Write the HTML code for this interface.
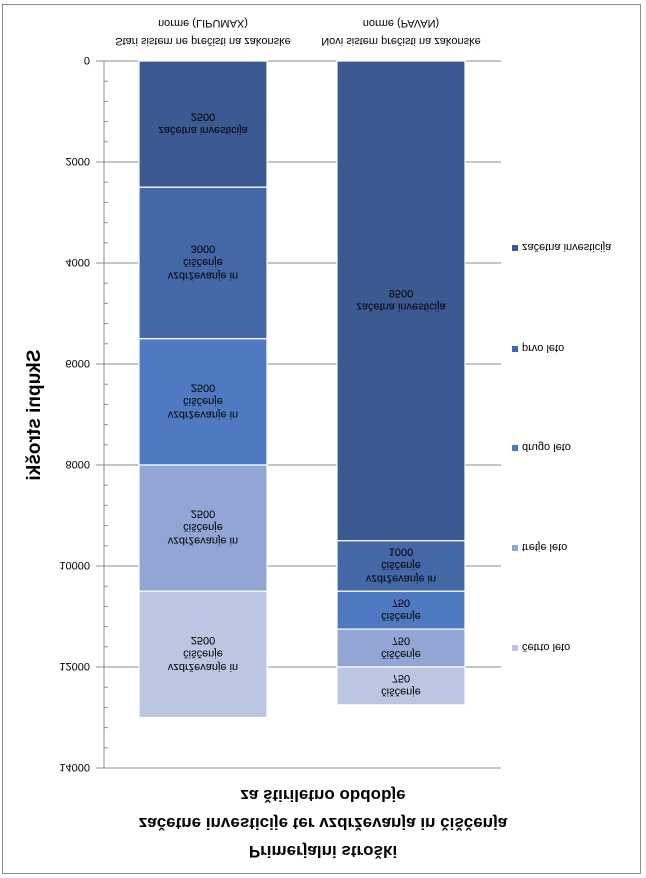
<!DOCTYPE html>
<html><head><meta charset="utf-8">
<style>
html,body{margin:0;padding:0;background:#fff;}
svg{display:block;font-family:"Liberation Sans",sans-serif;}
</style></head>
<body>
<svg id="chart" width="646" height="878" viewBox="0 0 646 878">
<g id="flip" transform="translate(0,878) scale(1,-1)">
  <rect x="2.5" y="4.5" width="638" height="869" fill="#fff" stroke="#8c8c8c"/>
  <g font-weight="bold" font-size="17" text-anchor="middle" fill="#000">
    <text x="323" y="32">Primerjalni stroški</text>
    <text x="323" y="60">začetne investicije ter vzdrževanja in čiščenja</text>
    <text x="323" y="88">za štiriletno obdobje</text>
  </g>
  <text transform="translate(40,463) rotate(-90)" text-anchor="middle" font-weight="bold" font-size="19">Skupni stroški</text>
  <g id="grid"></g>
  <g id="bars"></g>
  <g id="legend"></g>
  <g id="cats"></g>
</g>
</svg>
<script>
const categories = [["Stari sistem ne prečisti na zakonske","norme (LIPUMAX)"],["Novi sistem prečisti na zakonske","norme (PAVAN)"]];
const seriesNames = ["začetna investicija","prvo leto","drugo leto","tretje leto","četrto leto"];
const zacetna = [2500, 9500];
const prvo = [3000, 1000];
const drugo = [2500, 750];
const tretje = [2500, 750];
const cetrto = [2500, 750];
const tickLabels = [0,2000,4000,6000,8000,10000,12000,14000];
const segLabelsStari = [["začetna investicija"],["vzdrževanje in","čiščenje"],["vzdrževanje in","čiščenje"],["vzdrževanje in","čiščenje"],["vzdrževanje in","čiščenje"]];
const segLabelsNovi = [["začetna investicija"],["vzdrževanje in","čiščenje"],["čiščenje"],["čiščenje"],["čiščenje"]];

const NS="http://www.w3.org/2000/svg";
const colors=["#3c5a92","#4467a8","#4f7ac2","#92a5d4","#bcc5e2"];
const series=[zacetna,prvo,drugo,tretje,cetrto];
const segLabels=[segLabelsStari,segLabelsNovi];
const yMax=14000, y0=817, y1=110, axisX=104, gridR=501;
const barX=[139,337], barW=128;
function yScale(v){return y0-(v/yMax)*(y0-y1);}
function mk(tag,attrs,parent){const e=document.createElementNS(NS,tag);for(const k in attrs)e.setAttribute(k,attrs[k]);parent.appendChild(e);return e;}

const grid=document.getElementById('grid');
tickLabels.forEach((t,i)=>{
  const y=yScale(t);
  const l=mk('line',{x1:axisX-8,x2:gridR,y1:y,y2:y,stroke:'#8c8c8c','stroke-width':1},grid);
  
  
  const tx=mk('text',{x:90,y:y+4,'text-anchor':'end','font-size':11,fill:'#000'},grid);
  tx.textContent=t;
  
  
  if(i<tickLabels.length-1){
    for(let m=1;m<5;m++){
      const v=t+(tickLabels[i+1]-t)*m/5, ym=yScale(v);
      const ml=mk('line',{x1:axisX,x2:axisX+4,y1:ym,y2:ym,stroke:'#8c8c8c'},grid);
      
      
    }
  }
});
const ax=mk('line',{x1:axisX,x2:axisX,y1:yScale(0),y2:yScale(yMax),stroke:'#8c8c8c'},grid);



const bars=document.getElementById('bars');
categories.forEach((c,ci)=>{
  let cum=0;
  series.forEach((s,si)=>{
    const v=s[ci], ya=yScale(cum), yb=yScale(cum+v);
    const r=mk('rect',{x:barX[ci],y:yb,width:barW,height:ya-yb,fill:colors[si],stroke:'#fff','stroke-width':1.2},bars);
    
    
    const lines=segLabels[ci][si].concat([String(v)]);
    const cy=(ya+yb)/2, lh=13.5, start=cy-(lines.length-1)*lh/2+4;
    const t=mk('text',{'text-anchor':'middle','font-size':11,fill:'#000'},bars);
    
    
    lines.forEach((ln,li)=>{const ts=mk('tspan',{x:barX[ci]+barW/2,y:start+li*lh},t);ts.textContent=ln;});
    cum+=v;
  });
});

const cats=document.getElementById('cats');
categories.forEach((c,ci)=>{
  const t=mk('text',{'text-anchor':'middle','font-size':11,fill:'#000'},cats);
  
  
  c.forEach((ln,li)=>{const ts=mk('tspan',{x:barX[ci]+barW/2,y:840+li*18},t);ts.textContent=ln;});
});

const legend=document.getElementById('legend');
const legY=[630,529,430,330,230];
seriesNames.forEach((n,i)=>{
  const g=mk('g',{},legend);
  
  
  mk('rect',{x:512,y:legY[i]-3,width:6,height:6,fill:colors[i]},g);
  const t=mk('text',{x:522,y:legY[i]+4,'font-size':11,fill:'#000'},g);
  t.textContent=n;
});
</script>
</body></html>
